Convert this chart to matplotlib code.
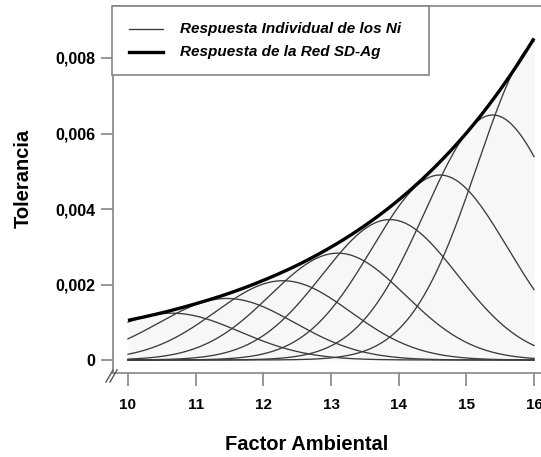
import numpy as np
import matplotlib
matplotlib.use("Agg")
import matplotlib.pyplot as plt
from matplotlib.lines import Line2D
from matplotlib.patches import Rectangle

# ---- data ----
centers = [10.65, 11.46, 12.29, 13.10, 13.87, 14.61, 15.39, 16.17]
heights = [0.00124, 0.00163, 0.00210, 0.00283, 0.00372, 0.00490, 0.00649, 0.00857]
spread = 1.0
env_x = [10.0, 10.5, 11.0, 11.5, 12.0, 12.5, 13.0, 13.5, 14.0, 14.5, 15.0, 15.5, 16.0]
env_y = [0.00105, 0.00125, 0.00149, 0.00177, 0.00211, 0.00251, 0.00299,
         0.00356, 0.00424, 0.00505, 0.00601, 0.00716, 0.00852]
xticks = [10, 11, 12, 13, 14, 15, 16]
xticklabels = ["10", "11", "12", "13", "14", "15", "16"]
yticks = [0, 0.002, 0.004, 0.006, 0.008]
yticklabels = ["0", "0,002", "0,004", "0,006", "0,008"]
legend_labels = ["Respuesta Individual de los Ni", "Respuesta de la Red SD-Ag"]

plt.rcParams['font.family'] = ['Liberation Sans', 'DejaVu Sans']

W, H = 541, 457
fig = plt.figure(figsize=(W / 100, H / 100), dpi=100)

def fx(px):
    return px / W

def fy(py):
    return 1 - py / H

ax_l, ax_r, ax_t, ax_b = 113, 541, 6, 373
ax = fig.add_axes([fx(ax_l), fy(ax_b), fx(ax_r - ax_l), (ax_b - ax_t) / H])

ppu = (534 - 128) / 6.0
ax.set_xlim(10 - (128 - ax_l) / ppu, 16 + (ax_r - 534) / ppu)
ppv = 75.5 / 0.002
ax.set_ylim(-(ax_b - 360) / ppv, (360 - ax_t) / ppv)

xs = np.linspace(10, 16, 600)
env = np.exp(np.interp(xs, env_x, np.log(env_y)))
ax.fill_between(xs, 0, env, color='#f7f7f7', lw=0, zorder=1)

for c, h in zip(centers, heights):
    ax.plot(xs, h * np.exp(-(xs - c) ** 2 / (2 * spread ** 2)),
            color='#3c3c3c', lw=0.95, zorder=2)
ax.plot(xs, env, color='black', lw=2.4, zorder=3, solid_capstyle='butt')

for s in ['left', 'bottom', 'top']:
    ax.spines[s].set_color('#858585')
    ax.spines[s].set_linewidth(1.2)
ax.spines['right'].set_visible(False)

ax.set_xticks(xticks)
ax.set_xticklabels(xticklabels, fontsize=11, fontweight='bold')
ax.set_yticks(yticks)
ax.set_yticklabels(yticklabels, fontsize=11.5, fontweight='bold')
ax.tick_params(axis='x', direction='out', length=9.5, width=1.2, color='#858585', pad=8.5)
ax.tick_params(axis='y', direction='out', length=8.5, width=1.2, color='#858585', pad=4)

# axis break marks
for dx in (0, 4):
    fig.add_artist(Line2D([fx(106 + dx), fx(113 + dx)], [fy(382), fy(370)],
                          color='#555555', lw=1.0))

fig.text(fx(307), fy(445), "Factor Ambiental", fontsize=14.5, fontweight='bold',
         ha='center', va='center')
fig.text(fx(23), fy(178), "Tolerancia", fontsize=14.5, fontweight='bold',
         ha='center', va='center', rotation=90)

# legend box
fig.add_artist(Rectangle((fx(112), fy(75)), fx(429 - 112), (75 - 6) / H,
                         facecolor='white', edgecolor='#858585', lw=1.2, zorder=5))
fig.add_artist(Line2D([fx(129), fx(163)], [fy(29), fy(29)], color='#3c3c3c', lw=0.95, zorder=6))
fig.add_artist(Line2D([fx(129), fx(163)], [fy(52), fy(52)], color='black', lw=2.4, zorder=6))
fig.text(fx(180), fy(29), legend_labels[0], fontsize=11, fontweight='bold',
         style='italic', ha='left', va='center', zorder=7)
fig.text(fx(180), fy(52), legend_labels[1], fontsize=11, fontweight='bold',
         style='italic', ha='left', va='center', zorder=7)

fig.savefig("out.png", dpi=100)
